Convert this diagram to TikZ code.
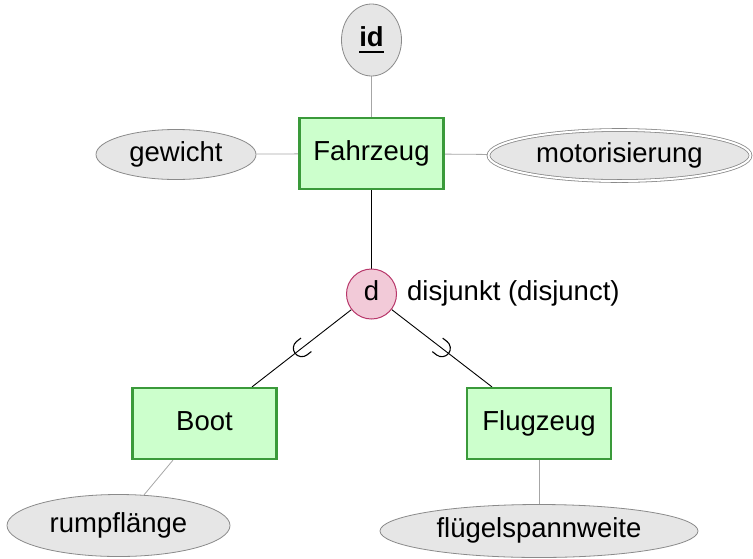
\documentclass[tikz,border=0pt]{standalone}
\usepackage{fontspec}
\setmainfont{Liberation Sans}
\usetikzlibrary{shapes.geometric,decorations.markings}

\definecolor{entfill}{HTML}{CCFFCC}
\definecolor{entdraw}{HTML}{3A9A3A}
\definecolor{attfill}{HTML}{E6E6E6}
\definecolor{attdraw}{HTML}{8A8A8A}
\definecolor{dfill}{HTML}{F2CAD8}
\definecolor{ddraw}{HTML}{B8376A}
\definecolor{attline}{HTML}{A6A6A6}

\pgfdeclarelayer{bg}
\pgfsetlayers{bg,main}

% bold, thickly underlined key attribute
\newcommand{\pkey}[1]{\setbox0\hbox{\textbf{#1}}\rlap{\rule[-6pt]{\wd0}{2pt}}\box0}

\begin{document}
\begin{tikzpicture}[x=1pt,y=-1pt,
  every node/.style={font=\fontsize{27.5}{32}\selectfont, inner sep=0pt,
                     text height=19pt, text depth=5.5pt},
  entity/.style={rectangle, fill=entfill, draw=entdraw, line width=2.2pt,
                 minimum width=144pt, minimum height=71pt},
  attr/.style={ellipse, fill=attfill, draw=attdraw, line width=0.8pt},
  multiattr/.style={attr, double=white, double distance=2pt},
  disj/.style={circle, fill=dfill, draw=ddraw, line width=1pt, minimum size=50pt},
  attrline/.style={draw=attline, line width=0.8pt},
  isaline/.style={draw=black, line width=0.9pt},
  subset/.style={postaction={decorate, decoration={markings,
      mark=at position 0.5 with {\draw[line width=1.1pt]
        (-5.5pt,-8.5pt) -- (0pt,-8.5pt) arc[start angle=-90, end angle=90, radius=8.5pt]
        -- (-5.5pt,8.5pt);}}}}
]
\useasboundingbox (0,0) rectangle (753,558);

% entities
\node[entity] (fahrzeug) at (371.5,153.5) {Fahrzeug};
\node[entity] (boot) at (204.5,423.5) {Boot};
\node[entity] (flug) at (539,423.5) {Flugzeug};

% attributes
\node[attr, minimum width=60pt, minimum height=72pt] (id) at (371.5,40) {\pkey{id}};
\node[attr, minimum width=160pt, minimum height=50pt] (gewicht) at (176,154.5) {gewicht};
\node[multiattr, minimum width=262pt, minimum height=51pt] (motor) at (619.5,155.5) {motorisierung};
\node[attr, minimum width=223pt, minimum height=62pt] (rumpf) at (118.5,525.5) {rumpflänge};
\node[attr, minimum width=318pt, minimum height=53pt] (fluegel) at (539,531) {flügelspannweite};

% specialisation circle
\node[disj] (d) at (371.5,294) {d};
\node[anchor=west] (dlabel) at (407,294) {disjunkt (disjunct)};

% connectors
\begin{pgfonlayer}{bg}
  \draw[attrline] (id) -- (fahrzeug);
  \draw[attrline] (gewicht) -- (fahrzeug);
  \draw[attrline] (fahrzeug) -- (motor);
  \draw[isaline] (fahrzeug) -- (d);
  \draw[isaline, subset] (d) -- ([xshift=47.5pt]boot.north);
  \draw[isaline, subset] (d) -- ([xshift=-47pt]flug.north);
  \draw[attrline] ([xshift=-31.5pt]boot.south) -- (rumpf);
  \draw[attrline] (flug) -- (fluegel);
\end{pgfonlayer}
\end{tikzpicture}
\end{document}
